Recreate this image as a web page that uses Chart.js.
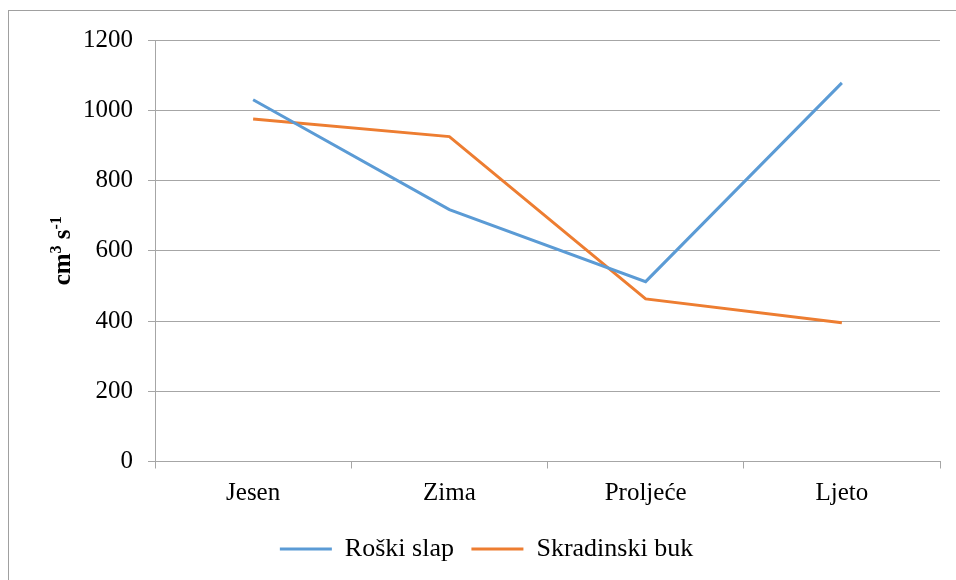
<!DOCTYPE html>
<html lang="en">
<head>
  <meta charset="UTF-8">
  <title>Protok</title>
  <script src="https://cdn.jsdelivr.net/npm/chart.js"></script>
  <style>
    body { margin: 0; background: #fff; overflow: hidden; }
    #wrap { position: relative; width: 956px; height: 580px; overflow: hidden; }
    #frame { position: absolute; left: 8px; top: 10px; width: 1000px; height: 620px; border: 1px solid #a0a0a0; box-sizing: border-box; }
    canvas { position: absolute; left: 0; top: 0; }
  </style>
  <script>
    addEventListener("DOMContentLoaded", init);

    const seasons = ["Jesen", "Zima", "Proljeće", "Ljeto"];
    const roskiSlap = [1030, 717, 512, 1078];
    const skradinskiBuk = [975, 925, 463, 395];
    const yTicks = [0, 200, 400, 600, 800, 1000, 1200];

    const serif = "'Liberation Serif', 'Times New Roman', serif";

    // y title with real superscripts: cm^3 s^-1
    const unitTitle = {
      id: 'unitTitle',
      afterDraw(chart) {
        const c = chart.ctx;
        const y = chart.scales.y;
        const parts = [
          ['cm', 25, 0], ['3', 16, 9], [' s', 25, 0], ['-1', 16, 9]
        ];
        c.save();
        let total = 0;
        for (const p of parts) {
          c.font = `bold ${p[1]}px ${serif}`;
          total += c.measureText(p[0]).width;
        }
        c.translate(y.left + 29, (chart.chartArea.top + chart.chartArea.bottom) / 2);
        c.rotate(-Math.PI / 2);
        c.fillStyle = '#000';
        c.textBaseline = 'alphabetic';
        let x = -total / 2;
        for (const p of parts) {
          c.font = `bold ${p[1]}px ${serif}`;
          c.fillText(p[0], x, 8 - p[2]);
          x += c.measureText(p[0]).width;
        }
        c.restore();
      }
    };

    function init() {
      let ctx = document.getElementById("flowChart");
      new Chart(ctx, {
        type: 'line',
        data: {
          labels: seasons,
          datasets: [{
            label: 'Roški slap',
            data: roskiSlap,
            borderColor: '#5b9bd5',
            backgroundColor: '#5b9bd5',
            borderWidth: 3,
            pointRadius: 0,
            tension: 0
          }, {
            label: 'Skradinski buk',
            data: skradinskiBuk,
            borderColor: '#ed7d31',
            backgroundColor: '#ed7d31',
            borderWidth: 3,
            pointRadius: 0,
            tension: 0
          }]
        },
        plugins: [unitTitle],
        options: {
          responsive: false,
          animation: false,
          layout: { padding: { left: 33, right: 16, top: 40, bottom: 8 } },
          plugins: {
            tooltip: { enabled: false },
            legend: {
              position: 'bottom',
              labels: {
                font: { family: serif, size: 26 },
                color: '#000',
                boxWidth: 52,
                boxHeight: 3,
                padding: 17.5,
                generateLabels: chart => chart.data.datasets.map((ds, i) => ({
                  text: ds.label,
                  fillStyle: ds.borderColor,
                  strokeStyle: ds.borderColor,
                  lineWidth: 0,
                  datasetIndex: i
                }))
              }
            }
          },
          scales: {
            x: {
              offset: true,
              grid: { offset: true, drawOnChartArea: false, color: '#a6a6a6', tickLength: 7 },
              border: { color: '#a6a6a6' },
              ticks: { font: { family: serif, size: 25 }, color: '#000', padding: 10 }
            },
            y: {
              min: 0,
              max: 1200,
              afterBuildTicks: axis => { axis.ticks = yTicks.map(v => ({ value: v })); },
              grid: { color: '#a6a6a6', tickLength: 7 },
              border: { color: '#a6a6a6' },
              title: {
                display: true,
                text: 'cm3 s-1',
                font: { family: serif, size: 25, weight: 'bold' },
                color: 'rgba(0,0,0,0)',
                padding: { top: 0, bottom: 5 }
              },
              ticks: {
                font: { family: serif, size: 25 },
                color: '#000',
                padding: 15,
                callback: v => String(v)
              }
            }
          }
        }
      });
    }
  </script>
</head>
<body>
  <div id="wrap">
    <canvas id="flowChart" width="956" height="580"></canvas>
    <div id="frame"></div>
  </div>
</body>
</html>
